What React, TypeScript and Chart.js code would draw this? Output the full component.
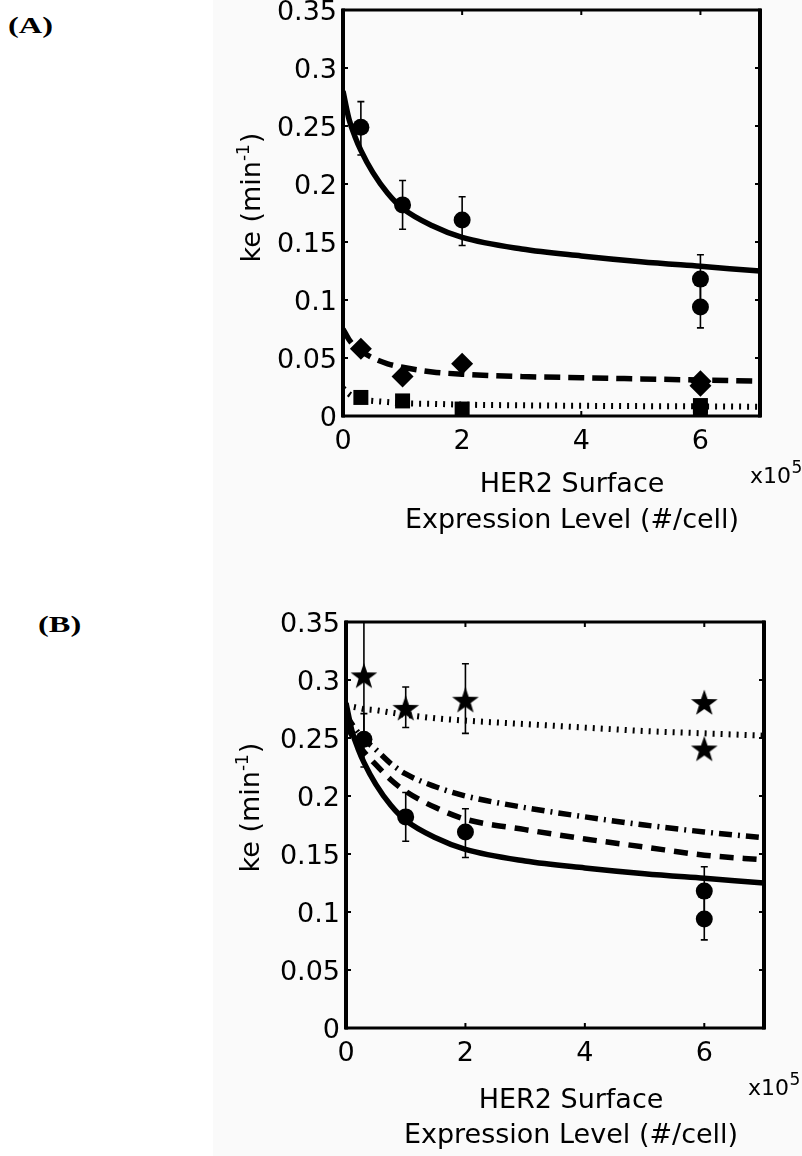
import React, { useEffect, useRef } from "react";
import { Chart, registerables } from "chart.js";
Chart.register(...registerables);

// ---------- tick labels ----------
const xTicks = [0, 2, 4, 6];
const xTickLabels = ["0", "2", "4", "6"];
const yTicks = [0, 0.05, 0.1, 0.15, 0.2, 0.25, 0.3, 0.35];
const yTickLabels = ["0", "0.05", "0.1", "0.15", "0.2", "0.25", "0.3", "0.35"];

// ---------- measured points (x in 10^5 #/cell, ke in 1/min) ----------
const circleX = [0.3, 1, 2, 6, 6];
const circleY = [0.249, 0.182, 0.169, 0.118, 0.094];
const circleLow = [0.225, 0.161, 0.147, 0.097, 0.076];
const circleHigh = [0.271, 0.203, 0.189, 0.139, 0.112];

const diamondX = [0.3, 1, 2, 6, 6];
const diamondY = [0.058, 0.034, 0.045, 0.03, 0.026];

const squareX = [0.3, 1, 2, 6, 6];
const squareY = [0.016, 0.013, 0.006, 0.009, 0.005];

const starX = [0.3, 1, 2, 6, 6];
const starY = [0.304, 0.276, 0.283, 0.281, 0.241];
const starLow = [0.249, 0.259, 0.254, null, null];
const starHigh = [0.359, 0.294, 0.314, null, null];

// ---------- model curves ----------
const fitX = [0, 0.1, 0.2, 0.3, 0.5, 0.75, 1, 1.5, 2, 3, 4, 5, 6, 7];
const fitSolid = [0.28, 0.256, 0.241, 0.229, 0.21, 0.192, 0.179, 0.164, 0.154, 0.144, 0.138, 0.133, 0.129, 0.125];
const fitDashedA = [0.075, 0.066, 0.06, 0.056, 0.05, 0.045, 0.042, 0.038, 0.036, 0.034, 0.033, 0.032, 0.031, 0.03];
const fitDottedA = [0.024, 0.019, 0.016, 0.014, 0.013, 0.012, 0.011, 0.0105, 0.0098, 0.0092, 0.0088, 0.0085, 0.0083, 0.008];
const fitDashedB = [0.262, 0.252, 0.244, 0.238, 0.227, 0.214, 0.204, 0.19, 0.18, 0.171, 0.163, 0.156, 0.149, 0.145];
const fitDashDotB = [0.27, 0.262, 0.255, 0.249, 0.24, 0.228, 0.219, 0.208, 0.2, 0.19, 0.182, 0.175, 0.169, 0.164];
const fitDottedB = [0.278, 0.277, 0.276, 0.275, 0.274, 0.272, 0.27, 0.267, 0.265, 0.262, 0.259, 0.256, 0.254, 0.252];

const FONT = "'DejaVu Sans', 'Liberation Sans', sans-serif";

function pts(xs: number[], ys: number[]) {
  return xs.map((x, i) => ({ x, y: ys[i] }));
}

function makeStar(size: number) {
  const c = document.createElement("canvas");
  c.width = size;
  c.height = size;
  const ctx = c.getContext("2d")!;
  const R = size / 2;
  const r = R * 0.4;
  const cx = size / 2;
  const cy = size / 2 + 1.5;
  ctx.beginPath();
  for (let k = 0; k < 10; k++) {
    const ang = -Math.PI / 2 + (k * Math.PI) / 5;
    const rad = k % 2 === 0 ? R : r;
    ctx.lineTo(cx + rad * Math.cos(ang), cy + rad * Math.sin(ang));
  }
  ctx.closePath();
  ctx.fillStyle = "#000";
  ctx.fill();
  return c;
}

type ErrSet = { x: number[]; low: (number | null)[]; high: (number | null)[] };

type Spec = {
  canvasTop: number;
  canvasH: number;
  areaLeft: number;
  areaRight: number;
  areaTop: number;
  areaBottom: number;
  datasets: any[];
  errors: ErrSet[];
  yTitleBaseX: number;
  yTitleCY: number;
  xTitleCX: number;
  xTitleBase1: number;
  xTitleBase2: number;
  x10X: number;
  x10Base: number;
};

const W = 802;

function buildChart(canvas: HTMLCanvasElement, s: Spec) {
  const off = s.canvasTop;
  const deco = {
    id: "deco",
    beforeDatasetsDraw(chart: any) {
      const { ctx, chartArea: a, scales } = chart;
      ctx.save();
      ctx.beginPath();
      ctx.rect(a.left, a.top, a.right - a.left, a.bottom - a.top);
      ctx.clip();
      ctx.strokeStyle = "#000";
      ctx.lineWidth = 1.6;
      for (const e of s.errors) {
        e.x.forEach((xv, i) => {
          const lo = e.low[i];
          const hi = e.high[i];
          if (lo == null || hi == null) return;
          const px = scales.x.getPixelForValue(xv);
          const p1 = scales.y.getPixelForValue(lo);
          const p2 = scales.y.getPixelForValue(hi);
          ctx.beginPath();
          ctx.moveTo(px, p1);
          ctx.lineTo(px, p2);
          ctx.moveTo(px - 3.5, p1);
          ctx.lineTo(px + 3.5, p1);
          ctx.moveTo(px - 3.5, p2);
          ctx.lineTo(px + 3.5, p2);
          ctx.stroke();
        });
      }
      ctx.restore();
    },
    afterDraw(chart: any) {
      const { ctx, chartArea: a, scales } = chart;
      ctx.save();
      ctx.strokeStyle = "#000";
      // inward ticks on all four sides
      ctx.lineWidth = 2;
      ctx.beginPath();
      scales.y.ticks.forEach((t: any) => {
        const py = scales.y.getPixelForValue(t.value);
        ctx.moveTo(a.left, py);
        ctx.lineTo(a.left + 5, py);
        ctx.moveTo(a.right, py);
        ctx.lineTo(a.right - 5, py);
      });
      scales.x.ticks.forEach((t: any) => {
        const px = scales.x.getPixelForValue(t.value);
        ctx.moveTo(px, a.bottom);
        ctx.lineTo(px, a.bottom - 5);
        ctx.moveTo(px, a.top);
        ctx.lineTo(px, a.top + 5);
      });
      ctx.stroke();
      // frame
      ctx.lineWidth = 3;
      ctx.beginPath();
      ctx.moveTo(a.left - 1, a.top);
      ctx.lineTo(a.right + 1, a.top);
      ctx.moveTo(a.left - 1, a.bottom);
      ctx.lineTo(a.right + 1, a.bottom);
      ctx.stroke();
      ctx.lineWidth = 4;
      ctx.beginPath();
      ctx.moveTo(a.left, a.top - 1.5);
      ctx.lineTo(a.left, a.bottom + 1.5);
      ctx.moveTo(a.right, a.top - 1.5);
      ctx.lineTo(a.right, a.bottom + 1.5);
      ctx.stroke();

      // x axis title (two lines)
      ctx.fillStyle = "#000";
      ctx.font = `27px ${FONT}`;
      ctx.textAlign = "center";
      ctx.textBaseline = "alphabetic";
      ctx.fillText("HER2 Surface", s.xTitleCX, s.xTitleBase1 - off);
      ctx.fillText("Expression Level (#/cell)", s.xTitleCX, s.xTitleBase2 - off);

      // y axis title with superscript
      ctx.save();
      ctx.translate(s.yTitleBaseX, s.yTitleCY - off);
      ctx.rotate(-Math.PI / 2);
      ctx.textAlign = "left";
      ctx.font = `27px ${FONT}`;
      const t1 = "ke (min";
      const t3 = ")";
      const w1 = ctx.measureText(t1).width;
      const w3 = ctx.measureText(t3).width;
      ctx.font = `17px ${FONT}`;
      const t2 = "-1";
      const w2 = ctx.measureText(t2).width;
      const x0 = -(w1 + w2 + w3) / 2;
      ctx.font = `27px ${FONT}`;
      ctx.fillText(t1, x0, 0);
      ctx.font = `17px ${FONT}`;
      ctx.fillText(t2, x0 + w1, -11);
      ctx.font = `27px ${FONT}`;
      ctx.fillText(t3, x0 + w1 + w2 + 1, 0);
      ctx.restore();

      // x10^5 exponent label
      ctx.textAlign = "left";
      ctx.font = `22px ${FONT}`;
      const wx = ctx.measureText("x10").width;
      ctx.fillText("x10", s.x10X, s.x10Base - off);
      ctx.font = `17px ${FONT}`;
      ctx.fillText("5", s.x10X + wx + 0.5, s.x10Base - 10 - off);
      ctx.restore();
    },
  };

  return new Chart(canvas, {
    type: "scatter",
    data: { datasets: s.datasets },
    options: {
      animation: false,
      responsive: false,
      devicePixelRatio: 1,
      layout: {
        padding: { left: 0, top: s.areaTop, right: W - s.areaRight, bottom: 0 },
      },
      plugins: { legend: { display: false }, tooltip: { enabled: false } },
      scales: {
        x: {
          type: "linear",
          min: 0,
          max: 7,
          grid: { display: false, drawTicks: false },
          border: { display: false },
          afterBuildTicks: (sc: any) => {
            sc.ticks = xTicks.map((v) => ({ value: v }));
          },
          afterFit: (sc: any) => {
            sc.height = s.canvasH - s.areaBottom;
          },
          ticks: {
            autoSkip: false,
            maxRotation: 0,
            padding: 10,
            color: "#000",
            font: { family: FONT, size: 27 },
            callback: (_v: any, i: number) => xTickLabels[i],
          },
        },
        y: {
          type: "linear",
          min: 0,
          max: 0.35,
          grid: { display: false, drawTicks: false },
          border: { display: false },
          afterBuildTicks: (sc: any) => {
            sc.ticks = yTicks.map((v) => ({ value: v }));
          },
          afterFit: (sc: any) => {
            sc.width = s.areaLeft;
          },
          ticks: {
            autoSkip: false,
            padding: 6,
            labelOffset: 3,
            color: "#000",
            font: { family: FONT, size: 27 },
            callback: (_v: any, i: number) => yTickLabels[i],
          },
        },
      },
    },
    plugins: [deco],
  } as any);
}

function lineDs(ys: number[], dash: number[], width: number) {
  return {
    data: pts(fitX, ys),
    showLine: true,
    pointRadius: 0,
    borderColor: "#000",
    borderWidth: width,
    borderDash: dash,
    borderCapStyle: "butt",
    cubicInterpolationMode: "monotone",
    fill: false,
  };
}

function markerDs(xs: number[], ys: number[], style: any, radius: number) {
  return {
    data: pts(xs, ys),
    showLine: false,
    pointStyle: style,
    pointRadius: radius,
    pointBackgroundColor: "#000",
    pointBorderColor: "#000",
    pointBorderWidth: 0,
  };
}

const A_TOP = -30;
const A_H = 590;
const B_TOP = 560;
const B_H = 596;

export default function App() {
  const refA = useRef<HTMLCanvasElement>(null);
  const refB = useRef<HTMLCanvasElement>(null);

  useEffect(() => {
    const star = makeStar(28);
    const chartA = buildChart(refA.current!, {
      canvasTop: A_TOP,
      canvasH: A_H,
      areaLeft: 343,
      areaRight: 760,
      areaTop: 10 - A_TOP,
      areaBottom: 416 - A_TOP,
      datasets: [
        markerDs(circleX, circleY, "circle", 8.5),
        markerDs(diamondX, diamondY, "rectRot", 11),
        markerDs(squareX, squareY, "rect", 10.6),
        lineDs(fitSolid, [], 5.5),
        lineDs(fitDashedA, [16, 8], 5.5),
        lineDs(fitDottedA, [2, 6], 6),
      ],
      errors: [{ x: circleX, low: circleLow, high: circleHigh }],
      yTitleBaseX: 260,
      yTitleCY: 198,
      xTitleCX: 572,
      xTitleBase1: 492,
      xTitleBase2: 528,
      x10X: 750,
      x10Base: 483,
    });
    const chartB = buildChart(refB.current!, {
      canvasTop: B_TOP,
      canvasH: B_H,
      areaLeft: 346,
      areaRight: 764,
      areaTop: 622 - B_TOP,
      areaBottom: 1028 - B_TOP,
      datasets: [
        markerDs(starX, starY, star, 14),
        markerDs(circleX, circleY, "circle", 8.5),
        lineDs(fitSolid, [], 5.5),
        lineDs(fitDashedB, [14, 9], 5.5),
        lineDs(fitDashDotB, [13, 6, 2, 6], 5.5),
        lineDs(fitDottedB, [2, 6], 6),
      ],
      errors: [
        { x: starX, low: starLow, high: starHigh },
        { x: circleX, low: circleLow, high: circleHigh },
      ],
      yTitleBaseX: 259,
      yTitleCY: 808,
      xTitleCX: 571,
      xTitleBase1: 1108,
      xTitleBase2: 1143,
      x10X: 748,
      x10Base: 1095,
    });
    return () => {
      chartA.destroy();
      chartB.destroy();
    };
  }, []);

  const labelStyle: React.CSSProperties = {
    position: "absolute",
    font: "bold 24px 'Liberation Serif', 'Times New Roman', serif",
    lineHeight: "24px",
    transform: "scaleX(1.35)",
    transformOrigin: "left top",
    color: "#000",
    whiteSpace: "nowrap",
  };

  return (
    <div
      style={{
        position: "absolute",
        left: 0,
        top: 0,
        width: W,
        height: 1156,
        overflow: "hidden",
        background: "#fff",
      }}
    >
      <div
        style={{
          position: "absolute",
          left: 213,
          top: 0,
          width: W - 213,
          height: 1156,
          background: "#fafafa",
        }}
      />
      <div style={{ ...labelStyle, left: 8, top: 13 }}>(A)</div>
      <div style={{ ...labelStyle, left: 38, top: 612 }}>(B)</div>
      <canvas
        ref={refA}
        width={W}
        height={A_H}
        style={{ position: "absolute", left: 0, top: A_TOP, width: W, height: A_H }}
      />
      <canvas
        ref={refB}
        width={W}
        height={B_H}
        style={{ position: "absolute", left: 0, top: B_TOP, width: W, height: B_H }}
      />
    </div>
  );
}
